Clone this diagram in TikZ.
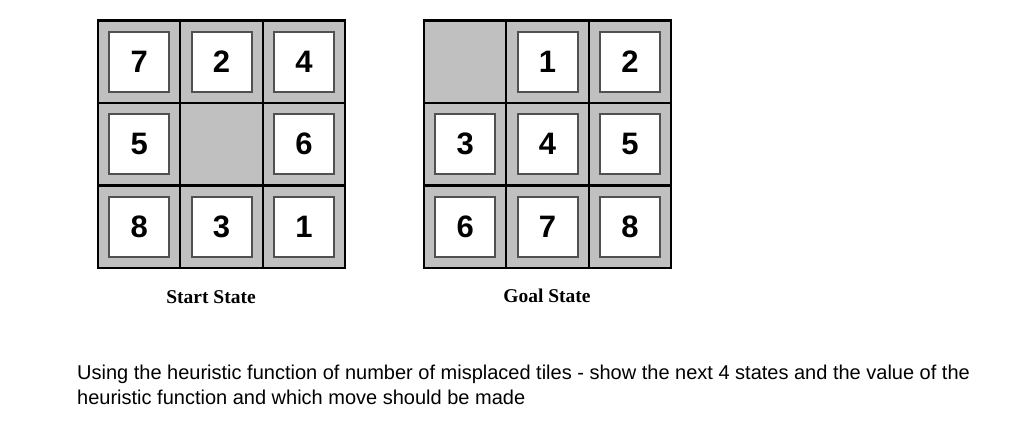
\documentclass[tikz,border=0pt]{standalone}
\usepackage{fontspec}
\setmainfont{Liberation Sans}
\newfontfamily\capfont{Liberation Serif}
\definecolor{cellgray}{RGB}{192,192,192}
\definecolor{tileedge}{RGB}{80,80,80}
\begin{document}
\begin{tikzpicture}[x=1pt,y=-1pt,
  cell/.style={draw=black, line width=2.2pt, fill=cellgray, minimum size=82.5pt, inner sep=0pt, outer sep=0pt},
  tile/.style={draw=tileedge, line width=1.8pt, fill=white, minimum size=60pt, inner sep=0pt,
               font=\fontsize{31}{31}\selectfont\bfseries},
  caption/.style={font=\capfont\bfseries\fontsize{19.5}{19.5}\selectfont, anchor=base},
  question/.style={font=\fontsize{20}{20}\selectfont, anchor=base west, inner sep=0pt}
  ]
\path[use as bounding box] (0,0) rectangle (1024,423);
% grids
\foreach \r in {1,2,3}{
  \foreach \c in {1,2,3}{
    \node[cell] (s\r\c) at ({98+82.4*(\c-0.5)},{20.5+82.5*(\r-0.5)}) {};
    \node[cell] (g\r\c) at ({424+82.4*(\c-0.5)},{20.5+82.5*(\r-0.5)}) {};
  }
}
% start state tiles
\node[tile] (sa) at (s11) {7};
\node[tile] (sb) at (s12) {2};
\node[tile] (sc) at (s13) {4};
\node[tile] (sd) at (s21) {5};
\node[tile] (se) at (s23) {6};
\node[tile] (sf) at (s31) {8};
\node[tile] (sg) at (s32) {3};
\node[tile] (sh) at (s33) {1};
% goal state tiles
\node[tile] (ga) at (g12) {1};
\node[tile] (gb) at (g13) {2};
\node[tile] (gc) at (g21) {3};
\node[tile] (gd) at (g22) {4};
\node[tile] (ge) at (g23) {5};
\node[tile] (gf) at (g31) {6};
\node[tile] (gg) at (g32) {7};
\node[tile] (gh) at (g33) {8};
% captions
\node[caption] (startlab) at (211,303) {Start State};
\node[caption] (goallab) at (547,302) {Goal State};
% question text
\node[question] (q1) at (77,379) {Using the heuristic function of number of misplaced tiles - show the next 4 states and the value of the};
\node[question] (q2) at (77,404) {heuristic function and which move should be made};
\end{tikzpicture}
\end{document}
